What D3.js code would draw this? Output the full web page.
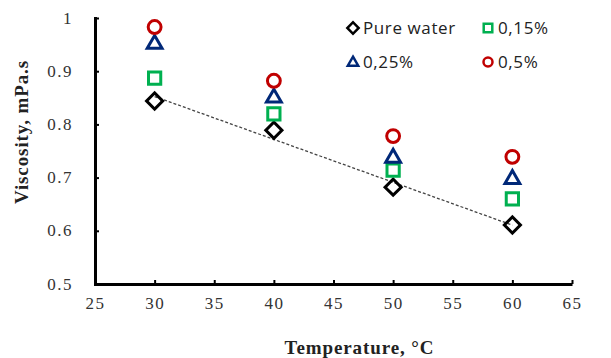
<!DOCTYPE html>
<html>
<head>
<meta charset="utf-8">
<script src="https://cdn.jsdelivr.net/npm/d3@7"></script>
<style>
  body { margin: 0; background: #fff; }
  .tick text { font-family: "Liberation Serif", "DejaVu Serif", serif; font-size: 17px; letter-spacing: 1.5px; fill: #333; }
</style>
</head>
<body>
<div id="chart"></div>
<script>
// data
var temps = [30, 40, 50, 60];
var pureWater = [0.844, 0.789, 0.682, 0.611];
var c015 = [0.887, 0.820, 0.714, 0.660];
var c025 = [0.953, 0.852, 0.739, 0.699];
var c05 = [0.983, 0.882, 0.778, 0.739];

var xTicks = [25, 30, 35, 40, 45, 50, 55, 60, 65];
var yTicks = [0.5, 0.6, 0.7, 0.8, 0.9, 1];
var seriesNames = ["Pure water", "0,15%", "0,25%", "0,5%"];

var series = [
    { name: seriesNames[0], values: pureWater, shape: "diamond", color: "#000000" },
    { name: seriesNames[1], values: c015, shape: "square", color: "#00b050" },
    { name: seriesNames[2], values: c025, shape: "triangle", color: "#002878" },
    { name: seriesNames[3], values: c05, shape: "circle", color: "#c00000" }
];

var width = 611, height = 358;
var margin = { left: 95, right: 39, top: 18, bottom: 74 };

var svg = d3.select("#chart").append("svg")
    .attr("width", width)
    .attr("height", height);

var x = d3.scaleLinear().domain([25, 65]).range([margin.left, width - margin.right]);
var y = d3.scaleLinear().domain([0.5, 1]).range([height - margin.bottom, margin.top]);

// axes, ticks point inward
var xAxis = svg.append("g")
    .attr("transform", "translate(0," + y(0.5) + ")")
    .call(d3.axisBottom(x).tickValues(xTicks).tickSizeInner(-4).tickSizeOuter(0).tickPadding(13));
xAxis.select(".domain").attr("stroke", "#000").attr("stroke-width", 3);
xAxis.selectAll(".tick line").attr("stroke", "#000").attr("stroke-width", 2);

var yAxis = svg.append("g")
    .attr("transform", "translate(" + x(25) + ",0)")
    .call(d3.axisLeft(y).tickValues(yTicks).tickSizeInner(-4).tickSizeOuter(0).tickPadding(22)
        .tickFormat(function (d) { return d === 1 ? "1" : d3.format(".1f")(d); }));
yAxis.select(".domain").attr("stroke", "#000").attr("stroke-width", 3).attr("stroke-linecap", "square");
yAxis.selectAll(".tick line").attr("stroke", "#000").attr("stroke-width", 2);
yAxis.selectAll(".tick text").attr("dy", "0.3em");

// axis titles
svg.append("text")
    .attr("x", (x(25) + x(65)) / 2 + 26)
    .attr("y", 354)
    .attr("text-anchor", "middle")
    .style("font-family", "Liberation Serif, serif")
    .style("font-size", "19px")
    .style("font-weight", "bold")
    .style("letter-spacing", "0.9px")
    .attr("fill", "#222")
    .text("Temperature, \u00b0C");

svg.append("text")
    .attr("transform", "translate(28," + 132 + ") rotate(-90)")
    .attr("text-anchor", "middle")
    .style("font-family", "Liberation Serif, serif")
    .style("font-size", "19px")
    .style("font-weight", "bold")
    .style("letter-spacing", "0.9px")
    .attr("fill", "#222")
    .text("Viscosity, mPa.s");

// linear trend of pure water
var mx = d3.mean(temps), my = d3.mean(pureWater);
var slope = d3.sum(temps, function (t, i) { return (t - mx) * (pureWater[i] - my); }) /
    d3.sum(temps, function (t) { return (t - mx) * (t - mx); });
var icpt = my - slope * mx;
var tx = d3.extent(temps);
svg.append("line")
    .attr("x1", x(tx[0])).attr("y1", y(icpt + slope * tx[0]))
    .attr("x2", x(tx[1])).attr("y2", y(icpt + slope * tx[1]))
    .attr("stroke", "#444")
    .attr("stroke-width", 1.3)
    .attr("stroke-dasharray", "3,2");

var symbols = {
    diamond: d3.symbol().type(d3.symbolSquare).size(130),
    square: d3.symbol().type(d3.symbolSquare).size(150),
    triangle: d3.symbol().type(d3.symbolTriangle).size(95),
    circle: d3.symbol().type(d3.symbolCircle).size(130)
};

function drawMarker(g, shape, color, cx, cy, scale, sw) {
    scale = scale || 1;
    sw = sw || 3;
    var rot = shape === "diamond" ? " rotate(45)" : "";
    var tri = shape === "triangle" ? " translate(0,1)" : "";
    g.append("path")
        .attr("d", symbols[shape]())
        .attr("transform", "translate(" + cx + "," + cy + ")" + rot + " scale(" + scale + ")" + tri)
        .attr("fill", "none")
        .attr("stroke", color)
        .attr("stroke-width", sw / scale);
}

var marks = svg.append("g");
series.forEach(function (s) {
    s.values.forEach(function (v, i) {
        drawMarker(marks, s.shape, s.color, x(temps[i]), y(v));
    });
});

// legend
var legendPos = [[353, 28], [488, 28], [353, 62], [488, 62]];
var legend = svg.append("g");
series.forEach(function (s, i) {
    var p = legendPos[i];
    drawMarker(legend, s.shape, s.color, p[0], p[1], 0.7, 2.5);
    legend.append("text")
        .attr("x", p[0] + 10)
        .attr("y", p[1] + 6)
        .style("font-family", "Open Sans, sans-serif")
        .style("font-size", "17px")
        .style("letter-spacing", "0.6px")
        .attr("fill", "#222")
        .text(s.name);
});
</script>
</body>
</html>
